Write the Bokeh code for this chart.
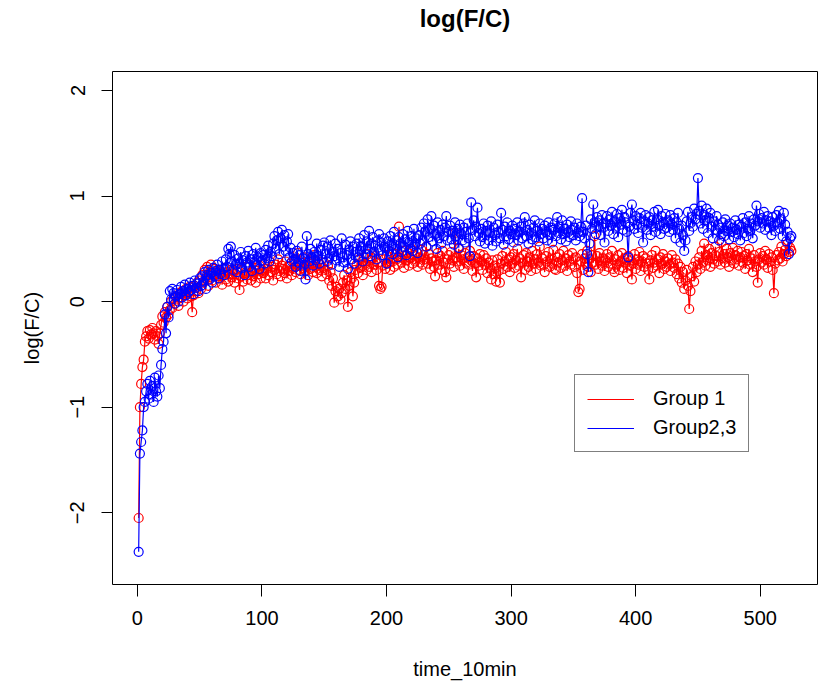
from bokeh.plotting import figure
from bokeh.models import Range1d, FixedTicker, Legend, LegendItem
from bokeh.embed import file_html
from bokeh.resources import INLINE

# ---- data ----
time_10min = list(range(1, 526))

group1 = [
    -2.05, -1.00, -0.78, -0.62, -0.55, -0.38, -0.33, -0.28, -0.35, -0.27, -0.31, -0.25, -0.30, -0.36, -0.28, -0.33, -0.40, -0.30, -0.22, -0.14, -0.20, -0.10, -0.15, -0.05, -0.12,
    -0.08, 0.00, -0.06, 0.03, -0.02, 0.05, 0.02, -0.04, 0.08, 0.04, 0.10, 0.00, 0.06, 0.12, 0.03, 0.08, 0.14, 0.05, -0.10, 0.06, 0.15, 0.10, 0.18, 0.08, 0.20,
    0.12, 0.25, 0.18, 0.30, 0.22, 0.33, 0.15, 0.28, 0.35, 0.20, 0.26, 0.31, 0.18, 0.24, 0.30, 0.22, 0.27, 0.16, 0.25, 0.32, 0.21, 0.28, 0.19, 0.26, 0.30,
    0.23, 0.29, 0.18, 0.26, 0.31, 0.22, 0.11, 0.24, 0.30, 0.19, 0.27, 0.33, 0.21, 0.25, 0.35, 0.20, 0.28, 0.24, 0.32, 0.18, 0.29, 0.26, 0.34, 0.22, 0.30,
    0.27, 0.36, 0.22, 0.31, 0.25, 0.38, 0.28, 0.33, 0.20, 0.30, 0.35, 0.26, 0.40, 0.29, 0.24, 0.34, 0.31, 0.27, 0.38, 0.22, 0.33, 0.29, 0.36, 0.25, 0.31,
    0.40, 0.28, 0.35, 0.46, 0.30, 0.26, 0.37, 0.32, 0.42, 0.29, 0.34, 0.25, 0.39, 0.31, 0.36, 0.28, 0.44, 0.33, 0.27, 0.38, 0.30, 0.35, 0.24, 0.32, 0.37,
    0.30, 0.26, 0.34, 0.20, 0.28, 0.15, 0.22, -0.01, 0.10, 0.14, 0.05, 0.12, 0.02, 0.08, 0.18, 0.25, 0.12, 0.20, -0.05, 0.15, 0.28, 0.22, 0.05, 0.18, 0.30,
    0.35, 0.27, 0.40, 0.32, 0.38, 0.25, 0.42, 0.36, 0.30, 0.45, 0.33, 0.39, 0.28, 0.41, 0.35, 0.43, 0.30, 0.37, 0.15, 0.12, 0.14, 0.34, 0.40, 0.31, 0.44,
    0.36, 0.42, 0.30, 0.47, 0.38, 0.33, 0.45, 0.40, 0.35, 0.71, 0.42, 0.37, 0.48, 0.32, 0.43, 0.39, 0.46, 0.34, 0.41, 0.50, 0.36, 0.44, 0.38, 0.47, 0.33,
    0.42, 0.37, 0.49, 0.35, 0.44, 0.40, 0.52, 0.36, 0.45, 0.31, 0.41, 0.38, 0.33, 0.24, 0.39, 0.46, 0.35, 0.43, 0.30, 0.48, 0.37, 0.28, 0.23, 0.40, 0.44,
    0.36, 0.47, 0.39, 0.33, 0.65, 0.42, 0.38, 0.50, 0.34, 0.44, 0.40, 0.31, 0.46, 0.37, 0.42, 0.35, 0.48, 0.39, 0.29, 0.43, 0.36, 0.23, 0.41, 0.34, 0.45,
    0.38, 0.30, 0.44, 0.35, 0.41, 0.27, 0.37, 0.32, 0.21, 0.39, 0.26, 0.34, 0.19, 0.40, 0.29, 0.18, 0.36, 0.43, 0.31, 0.38, 0.47, 0.33, 0.40, 0.28, 0.42,
    0.36, 0.45, 0.32, 0.39, 0.50, 0.34, 0.41, 0.23, 0.37, 0.44, 0.30, 0.46, 0.38, 0.33, 0.42, 0.29, 0.48, 0.36, 0.40, 0.31, 0.45, 0.37, 0.52, 0.34, 0.41,
    0.35, 0.28, 0.43, 0.38, 0.47, 0.33, 0.40, 0.36, 0.49, 0.31, 0.30, 0.42, 0.37, 0.45, 0.32, 0.39, 0.48, 0.34, 0.41, 0.29, 0.44, 0.38, 0.35, 0.46, 0.40,
    0.33, 0.42, 0.27, 0.09, 0.12, 0.38, 0.45, 0.30, 0.41, 0.36, 0.48, 0.33, 0.40, 0.28, 0.44, 0.37, 0.62, 0.35, 0.43, 0.31, 0.46, 0.38, 0.34, 0.41, 0.29,
    0.39, 0.45, 0.33, 0.42, 0.36, 0.48, 0.31, 0.28, 0.40, 0.35, 0.44, 0.30, 0.38, 0.46, 0.32, 0.41, 0.37, 0.27, 0.43, 0.34, 0.39, 0.21, 0.36, 0.45, 0.31,
    0.40, 0.35, 0.47, 0.29, 0.38, 0.43, 0.33, 0.41, 0.36, 0.30, 0.21, 0.39, 0.44, 0.32, 0.37, 0.48, 0.34, 0.40, 0.27, 0.42, 0.36, 0.45, 0.31, 0.38, 0.33,
    0.41, 0.35, 0.29, 0.44, 0.37, 0.32, 0.40, 0.26, 0.36, 0.22, 0.33, 0.18, 0.28, 0.12, 0.20, 0.30, 0.15, -0.07, 0.10, 0.24, 0.33, 0.19, 0.38, 0.28, 0.35,
    0.42, 0.31, 0.48, 0.37, 0.55, 0.34, 0.44, 0.39, 0.50, 0.33, 0.46, 0.40, 0.36, 0.52, 0.43, 0.38, 0.47, 0.35, 0.56, 0.41, 0.45, 0.37, 0.50, 0.42, 0.33,
    0.46, 0.39, 0.51, 0.36, 0.44, 0.40, 0.48, 0.34, 0.42, 0.47, 0.37, 0.43, 0.31, 0.45, 0.39, 0.50, 0.35, 0.41, 0.28, 0.44, 0.38, 0.33, 0.18, 0.40, 0.46,
    0.37, 0.43, 0.35, 0.48, 0.40, 0.32, 0.45, 0.38, 0.42, 0.30, 0.08, 0.36, 0.44, 0.39, 0.47, 0.41, 0.52, 0.38, 0.45, 0.49, 0.43, 0.55, 0.47, 0.51, 0.48,
]

group2_3 = [
    -2.37, -1.44, -1.33, -1.22, -1.00, -0.95, -0.85, -0.78, -0.92, -0.75, -0.88, -0.80, -0.95, -0.72, -0.85, -0.90, -0.70, -0.82, -0.60, -0.45, -0.38, -0.12, -0.30, -0.05, -0.15,
    0.10, 0.02, 0.12, 0.08, -0.02, 0.05, 0.11, 0.00, 0.07, 0.14, 0.04, 0.10, 0.16, 0.06, 0.12, 0.09, 0.18, 0.11, 0.15, 0.07, 0.20, 0.13, 0.17, 0.10, 0.22,
    0.15, 0.24, 0.19, 0.28, 0.12, 0.25, 0.30, 0.21, 0.27, 0.18, 0.32, 0.24, 0.29, 0.35, 0.22, 0.30, 0.26, 0.38, 0.31, 0.25, 0.40, 0.33, 0.50, 0.45, 0.52,
    0.38, 0.30, 0.44, 0.35, 0.28, 0.41, 0.36, 0.47, 0.32, 0.39, 0.25, 0.43, 0.37, 0.48, 0.33, 0.40, 0.29, 0.45, 0.38, 0.51, 0.35, 0.42, 0.31, 0.46, 0.39,
    0.44, 0.36, 0.49, 0.41, 0.53, 0.38, 0.47, 0.43, 0.55, 0.62, 0.50, 0.58, 0.66, 0.45, 0.60, 0.68, 0.52, 0.63, 0.48, 0.57, 0.64, 0.42, 0.51, 0.38, 0.46,
    0.40, 0.33, 0.48, 0.37, 0.44, 0.29, 0.52, 0.41, 0.35, 0.21, 0.62, 0.45, 0.38, 0.50, 0.42, 0.34, 0.47, 0.39, 0.55, 0.43, 0.36, 0.49, 0.40, 0.53, 0.56,
    0.45, 0.38, 0.52, 0.41, 0.58, 0.35, 0.47, 0.43, 0.55, 0.39, 0.50, 0.33, 0.46, 0.60, 0.42, 0.37, 0.54, 0.44, 0.31, 0.49, 0.57, 0.40, 0.52, 0.36, 0.47,
    0.55, 0.42, 0.60, 0.48, 0.52, 0.38, 0.63, 0.45, 0.57, 0.50, 0.67, 0.43, 0.55, 0.61, 0.47, 0.53, 0.40, 0.58, 0.64, 0.49, 0.56, 0.44, 0.60, 0.51, 0.36,
    0.57, 0.48, 0.62, 0.53, 0.45, 0.66, 0.50, 0.58, 0.42, 0.61, 0.55, 0.47, 0.64, 0.52, 0.59, 0.44, 0.67, 0.56, 0.50, 0.62, 0.48, 0.69, 0.54, 0.60, 0.46,
    0.63, 0.55, 0.70, 0.58, 0.74, 0.66, 0.52, 0.78, 0.61, 0.69, 0.81, 0.57, 0.72, 0.64, 0.50, 0.75, 0.60, 0.68, 0.55, 0.73, 0.62, 0.70, 0.81, 0.58, 0.66,
    0.72, 0.59, 0.67, 0.54, 0.75, 0.62, 0.69, 0.51, 0.73, 0.64, 0.58, 0.70, 0.56, 0.66, 0.74, 0.60, 0.43, 0.94, 0.68, 0.77, 0.62, 0.71, 0.89, 0.65, 0.57,
    0.69, 0.61, 0.74, 0.55, 0.67, 0.72, 0.58, 0.65, 0.76, 0.53, 0.70, 0.63, 0.57, 0.73, 0.66, 0.60, 0.84, 0.68, 0.54, 0.71, 0.62, 0.75, 0.59, 0.67, 0.64,
    0.72, 0.56, 0.69, 0.63, 0.75, 0.58, 0.66, 0.71, 0.60, 0.74, 0.80, 0.62, 0.68, 0.55, 0.73, 0.65, 0.59, 0.70, 0.77, 0.61, 0.67, 0.57, 0.74, 0.64, 0.69,
    0.60, 0.72, 0.66, 0.58, 0.75, 0.63, 0.70, 0.56, 0.68, 0.74, 0.62, 0.80, 0.65, 0.71, 0.59, 0.77, 0.64, 0.69, 0.57, 0.73, 0.66, 0.61, 0.76, 0.68, 0.63,
    0.70, 0.58, 0.74, 0.65, 0.62, 0.71, 0.98, 0.66, 0.60, 0.72, 0.45, 0.28, 0.55, 0.78, 0.69, 0.92, 0.75, 0.64, 0.80, 0.71, 0.77, 0.63, 0.82, 0.70, 0.56,
    0.74, 0.81, 0.67, 0.78, 0.72, 0.85, 0.64, 0.76, 0.70, 0.83, 0.61, 0.79, 0.73, 0.87, 0.68, 0.80, 0.75, 0.66, 0.42, 0.71, 0.84, 0.92, 0.77, 0.69, 0.81,
    0.73, 0.65, 0.79, 0.84, 0.70, 0.56, 0.76, 0.82, 0.68, 0.74, 0.80, 0.63, 0.77, 0.71, 0.85, 0.66, 0.78, 0.87, 0.72, 0.64, 0.81, 0.75, 0.69, 0.83, 0.70,
    0.77, 0.66, 0.82, 0.73, 0.68, 0.79, 0.60, 0.75, 0.84, 0.69, 0.56, 0.72, 0.63, 0.48, 0.58, 0.76, 0.85, 0.67, 0.74, 0.80, 0.71, 0.88, 0.78, 0.83, 1.17,
    0.86, 0.74, 0.91, 0.69, 0.82, 0.77, 0.88, 0.65, 0.79, 0.84, 0.71, 0.60, 0.76, 0.68, 0.81, 0.73, 0.58, 0.70, 0.64, 0.75, 0.62, 0.78, 0.67, 0.72, 0.59,
    0.74, 0.66, 0.70, 0.61, 0.77, 0.68, 0.64, 0.73, 0.58, 0.71, 0.79, 0.65, 0.75, 0.62, 0.69, 0.81, 0.67, 0.74, 0.60, 0.78, 0.72, 0.91, 0.76, 0.83, 0.70,
    0.79, 0.74, 0.85, 0.68, 0.77, 0.81, 0.70, 0.76, 0.63, 0.80, 0.72, 0.67, 0.82, 0.75, 0.86, 0.69, 0.78, 0.62, 0.84, 0.73, 0.57, 0.66, 0.45, 0.60, 0.62,
]

series_labels = ["Group 1", "Group2,3"]
series_colors = ["#FF0000", "#0000FF"]
x_ticks = [0, 100, 200, 300, 400, 500]
y_ticks = [-2, -1, 0, 1, 2]
title_text = "log(F/C)"

FONT = "Liberation Sans"

p = figure(
    width=822, height=692,
    x_range=Range1d(-20.0, 546.0), y_range=Range1d(-2.68, 2.18),
    output_backend="svg", toolbar_location=None,
    min_border_left=112, min_border_right=5, min_border_top=71, min_border_bottom=108,
    # a blank second line keeps the title up high, as R places it
    title=title_text + "\n ",
)
p.title.align = "center"
p.title.vertical_align = "bottom"
p.title.text_font = FONT
p.title.text_font_size = "24px"
p.title.text_font_style = "bold"
p.title.text_color = "black"
p.title.text_line_height = 1.42
p.title.standoff = 2

p.xgrid.visible = False
p.ygrid.visible = False
p.outline_line_color = "black"
p.outline_line_width = 1
p.background_fill_color = "white"
p.border_fill_color = "white"

p.xaxis.ticker = FixedTicker(ticks=x_ticks)
p.yaxis.ticker = FixedTicker(ticks=y_ticks)
for ax in (p.xaxis[0], p.yaxis[0]):
    ax.axis_line_color = None
    ax.major_tick_line_color = "black"
    ax.major_tick_in = 0
    ax.minor_tick_line_color = None
    ax.major_label_text_font = FONT
    ax.major_label_text_font_size = "20px"
    ax.major_label_text_color = "black"
    ax.axis_label_text_font = FONT
    ax.axis_label_text_font_size = "20px"
    ax.axis_label_text_font_style = "normal"
    ax.axis_label_text_color = "black"

p.xaxis.axis_label = "time_10min"
p.xaxis.major_tick_out = 12
p.xaxis.major_label_standoff = 14
p.xaxis.axis_label_standoff = 30

p.yaxis.axis_label = "log(F/C)"
p.yaxis.major_tick_out = 11
p.yaxis.major_label_orientation = "vertical"
p.yaxis.major_label_standoff = 17
p.yaxis.axis_label_standoff = 25

renderers = []
for ys, col in zip([group1, group2_3], series_colors):
    ln = p.line(time_10min, ys, line_color=col, line_width=1.2)
    p.scatter(time_10min, ys, marker="circle", size=9, fill_color=None,
              line_color=col, line_width=1.2)
    renderers.append(ln)

legend = Legend(
    items=[LegendItem(label=lab, renderers=[r]) for lab, r in zip(series_labels, renderers)],
    location=(462, 132),
    label_text_font=FONT, label_text_font_size="20px", label_text_color="black",
    glyph_width=47, glyph_height=20, label_standoff=19, spacing=6,
    padding=12, margin=0,
    border_line_color="black", border_line_width=1,
    background_fill_color="white", background_fill_alpha=1.0,
)
p.add_layout(legend)

open("out.html", "w").write(file_html(p, INLINE))
